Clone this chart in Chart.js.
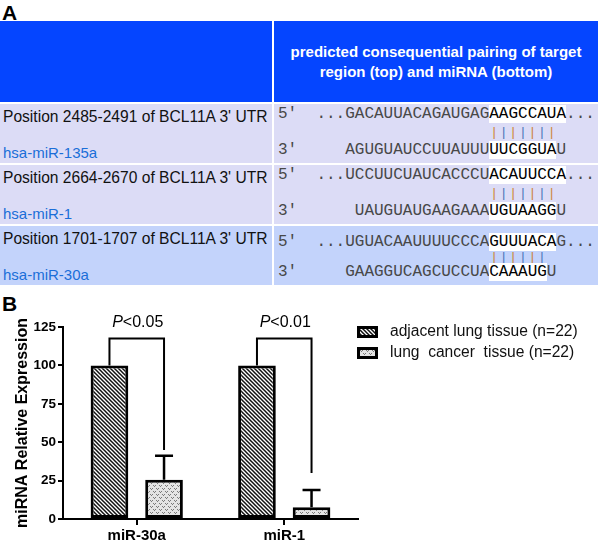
<!DOCTYPE html>
<html>
<head>
  <title>BCL11A miRNA</title>
  <script src="https://cdn.jsdelivr.net/npm/chart.js@4.4.1/dist/chart.umd.min.js"></script>
  <style>
    html, body {
      margin: 0;
      padding: 0;
      background: #fff;
      font-family: 'Liberation Sans', Arial, sans-serif;
    }

    #page {
      position: relative;
      width: 600px;
      height: 545px;
      overflow: hidden;
    }

    .panel-label {
      position: absolute;
      left: 2px;
      font-weight: bold;
      font-size: 21px;
      line-height: 21px;
    }

    .cell {
      position: absolute;
      box-sizing: border-box;
    }

    .hdr {
      background: #0545ff;
      color: #fff;
      font-weight: bold;
      font-size: 15px;
      line-height: 20px;
      text-align: center;
    }

    .left { left: 0; width: 272px; height: 59px; }
    .right { left: 274px; width: 324px; height: 59px; }
    .pale { background: #dcdcf6; }
    .blue { background: #c3d3fb; }

    .pos, .mir {
      position: absolute;
      left: 3px;
      line-height: 18px;
      white-space: nowrap;
    }
    .pos { top: 4px; color: #111; font-size: 15.6px; }
    .mir { top: 40px; color: #1a6ed8; font-size: 15px; }

    .seq {
      position: absolute;
      left: 4px;
      font-family: 'Liberation Mono', 'Courier New', monospace;
      font-size: 16px;
      white-space: pre;
      color: #484848;
    }
    .seq .hl { background: #fff; color: #000; }
    .seq .pp {
      display: inline-block;
      width: 9.6px;
      text-align: center;
      font-size: 13px;
      vertical-align: baseline;
    }
    .seq .po { color: #cc8434; }
    .seq .pb { color: #4a74b8; }

    #chart_wrap {
      position: absolute;
      left: 0;
      top: 290px;
      width: 600px;
      height: 255px;
    }
  </style>
</head>
<body>
<div id="page">
  <div class="panel-label" style="top:2px">A</div>

  <div class="cell hdr" style="left:0;top:21px;width:272px;height:81px"></div>
  <div class="cell hdr" style="left:274px;top:21px;width:324px;height:81px;padding-top:21px">
    predicted consequential pairing of target<br>region (top) and miRNA (bottom)
  </div>

  <div id="rows"></div>

  <div class="panel-label" style="top:293px">B</div>
  <div id="chart_wrap"><canvas id="expr" width="600" height="255"></canvas></div>
</div>

<script>
  // ---- panel A: target site pairing ----
  const sitePositions = ['2485-2491', '2664-2670', '1701-1707'];
  const mirNames = ['hsa-miR-135a', 'hsa-miR-1', 'hsa-miR-30a'];
  // [before seed, seed match, after] for UTR (top) and miRNA (bottom)
  const utrSeqs = [
    ['GACAUUACAGAUGAG', 'AAGCCAUA', '...'],
    ['UCCUUCUAUCACCCU', 'ACAUUCCA', '...'],
    ['UGUACAAUUUUCCCA', 'GUUUACA', 'G...']
  ];
  const mirSeqs = [
    ['   AGUGUAUCCUUAUUU', 'UUCGGUA', 'U'],
    ['    UAUGUAUGAAGAAA', 'UGUAAGG', 'U'],
    ['   GAAGGUCAGCUCCUA', 'CAAAUG', 'U']
  ];
  const pairCounts = [7, 7, 6];

  const rowTops = [104, 165, 226];
  const rowClass = ['pale', 'pale', 'blue'];
  const rowLine = [[2, 17.8], [2, 17.8], [8.5, 15.2]];

  let rowsEl = document.getElementById('rows');
  sitePositions.forEach((pos, i) => {
    let pipes = '';
    for (let k = 0; k < pairCounts[i]; k++) {
      pipes += `<span class="pp ${k % 2 ? 'pb' : 'po'}">|</span>`;
    }
    const u = utrSeqs[i], m = mirSeqs[i];
    const pad = ' '.repeat(3 + u[0].length);
    rowsEl.insertAdjacentHTML('beforeend', `
      <div class="cell left ${rowClass[i]}" style="top:${rowTops[i]}px">
        <div class="pos">Position ${pos} of BCL11A 3' UTR</div>
        <div class="mir">${mirNames[i]}</div>
      </div>
      <div class="cell right ${rowClass[i]}" style="top:${rowTops[i]}px">
        <div class="seq" style="top:${rowLine[i][0]}px;line-height:${rowLine[i][1]}px">5'  ...${u[0]}<span class="hl">${u[1]}</span>${u[2]}
    ${pad}${pipes}
3'  ${m[0]}<span class="hl">${m[1]}</span>${m[2]}</div>
      </div>`);
  });

  // ---- panel B: relative expression ----
  const categories = ['miR-30a', 'miR-1'];
  const adjacentValues = [100, 100];
  const cancerValues = [25.5, 7.6];
  const cancerErrors = [15.7, 11.3];
  const pLabels = ['<0.05', '<0.01'];
  const bracketTop = [117.5, 117.5];
  const bracketEnd = [45, 30];
  const yTicks = [0, 25, 50, 75, 100, 125];
  const seriesLabels = ['adjacent lung tissue (n=22)', 'lung  cancer  tissue (n=22)'];

  function hatchPattern() {
    let c = document.createElement('canvas');
    c.width = c.height = 4;
    let g = c.getContext('2d');
    g.fillStyle = '#fff';
    g.fillRect(0, 0, 4, 4);
    g.strokeStyle = '#111';
    g.lineWidth = 1.5;
    g.beginPath();
    g.moveTo(-1, -1); g.lineTo(5, 5);
    g.moveTo(-1, 3); g.lineTo(1, 5);
    g.moveTo(3, -1); g.lineTo(5, 1);
    g.stroke();
    return g.createPattern(c, 'repeat');
  }

  function dotPattern() {
    let c = document.createElement('canvas');
    c.width = c.height = 6;
    let g = c.getContext('2d');
    g.fillStyle = '#e4e4e4';
    g.fillRect(0, 0, 6, 6);
    g.fillStyle = '#7a7a7a';
    [[0, 0], [1, 1], [2, 0], [3, 3], [4, 4], [5, 3]].forEach(([x, y]) => g.fillRect(x, y, 1, 1));
    return g.createPattern(c, 'repeat');
  }

  const FONT = "'Liberation Sans', Arial, sans-serif";
  Chart.defaults.font.family = FONT;
  Chart.defaults.color = '#000';

  const decorations = {
    id: 'decorations',
    afterDatasetsDraw(chart) {
      const { ctx, scales: { y } } = chart;
      const adj = chart.getDatasetMeta(0).data;
      const can = chart.getDatasetMeta(1).data;
      ctx.save();
      ctx.strokeStyle = '#000';

      // error bars (upper only)
      ctx.lineWidth = 2.5;
      can.forEach((bar, i) => {
        const top = y.getPixelForValue(cancerValues[i] + cancerErrors[i]);
        ctx.beginPath();
        ctx.moveTo(bar.x, bar.y);
        ctx.lineTo(bar.x, top);
        ctx.moveTo(bar.x - 9, top);
        ctx.lineTo(bar.x + 9, top);
        ctx.stroke();
      });

      // significance brackets
      ctx.lineWidth = 2;
      categories.forEach((cat, i) => {
        const x0 = adj[i].x, x1 = can[i].x;
        const yt = y.getPixelForValue(bracketTop[i]);
        ctx.beginPath();
        ctx.moveTo(x0, y.getPixelForValue(adjacentValues[i]));
        ctx.lineTo(x0, yt);
        ctx.lineTo(x1, yt);
        ctx.lineTo(x1, y.getPixelForValue(bracketEnd[i]));
        ctx.stroke();

        const italic = `italic 16px ${FONT}`, plain = `16px ${FONT}`;
        ctx.font = italic;
        const wP = ctx.measureText('P').width;
        ctx.font = plain;
        const wR = ctx.measureText(pLabels[i]).width;
        let tx = (x0 + x1) / 2 - (wP + wR) / 2 + 1;
        const ty = yt - 12;
        ctx.fillStyle = '#000';
        ctx.textBaseline = 'alphabetic';
        ctx.font = italic;
        ctx.fillText('P', tx, ty);
        ctx.font = plain;
        ctx.fillText(pLabels[i], tx + wP, ty);
      });
      ctx.restore();
    },
    afterDraw(chart) {
      const { ctx, chartArea } = chart;
      ctx.save();
      ctx.font = `15.6px ${FONT}`;
      ctx.textBaseline = 'middle';
      chart.data.datasets.forEach((ds, i) => {
        const cy = 42 + i * 21;
        const bx = chartArea.right - 1;
        ctx.fillStyle = ds.backgroundColor;
        ctx.fillRect(bx, cy - 6, 21, 12);
        ctx.lineWidth = 3;
        ctx.strokeStyle = '#000';
        ctx.strokeRect(bx + 1.5, cy - 4.5, 18, 9);
        ctx.fillStyle = '#111';
        ctx.fillText(ds.label, bx + 33, cy);
      });
      ctx.restore();
    }
  };

  new Chart(document.getElementById('expr'), {
    type: 'bar',
    data: {
      labels: categories,
      datasets: [
        {
          label: seriesLabels[0],
          data: adjacentValues,
          backgroundColor: hatchPattern(),
          borderColor: '#000',
          borderWidth: 3,
          borderSkipped: false
        },
        {
          label: seriesLabels[1],
          data: cancerValues,
          backgroundColor: dotPattern(),
          borderColor: '#000',
          borderWidth: 3,
          borderSkipped: false
        }
      ]
    },
    options: {
      responsive: false,
      animation: false,
      devicePixelRatio: 1,
      categoryPercentage: 0.74,
      barPercentage: 0.69,
      layout: { padding: { top: 37, right: 242, left: 0, bottom: 0 } },
      plugins: {
        legend: { display: false },
        tooltip: { enabled: false }
      },
      scales: {
        x: {
          offset: true,
          grid: { offset: false, drawOnChartArea: false, drawTicks: true, tickLength: 6, color: '#000', lineWidth: 2 },
          border: { display: true, color: '#000', width: 2 },
          ticks: { font: { size: 15, weight: 'bold' }, padding: 2, color: '#000' },
          afterFit(scale) { scale.height = 26; }
        },
        y: {
          min: 0,
          max: 125,
          afterBuildTicks(scale) { scale.ticks = yTicks.map(v => ({ value: v })); },
          grid: { drawOnChartArea: false, drawTicks: true, tickLength: 5, color: '#000', lineWidth: 2 },
          border: { display: true, color: '#000', width: 2 },
          ticks: { font: { size: 13.5, weight: 'bold' }, padding: 2, color: '#000' },
          title: {
            display: true,
            text: 'miRNA Relative Expression',
            font: { size: 16, weight: 'bold' },
            padding: { top: 13, bottom: 0 }
          },
          afterFit(scale) { scale.width = 63; }
        }
      }
    },
    plugins: [decorations]
  });
</script>
</body>
</html>
